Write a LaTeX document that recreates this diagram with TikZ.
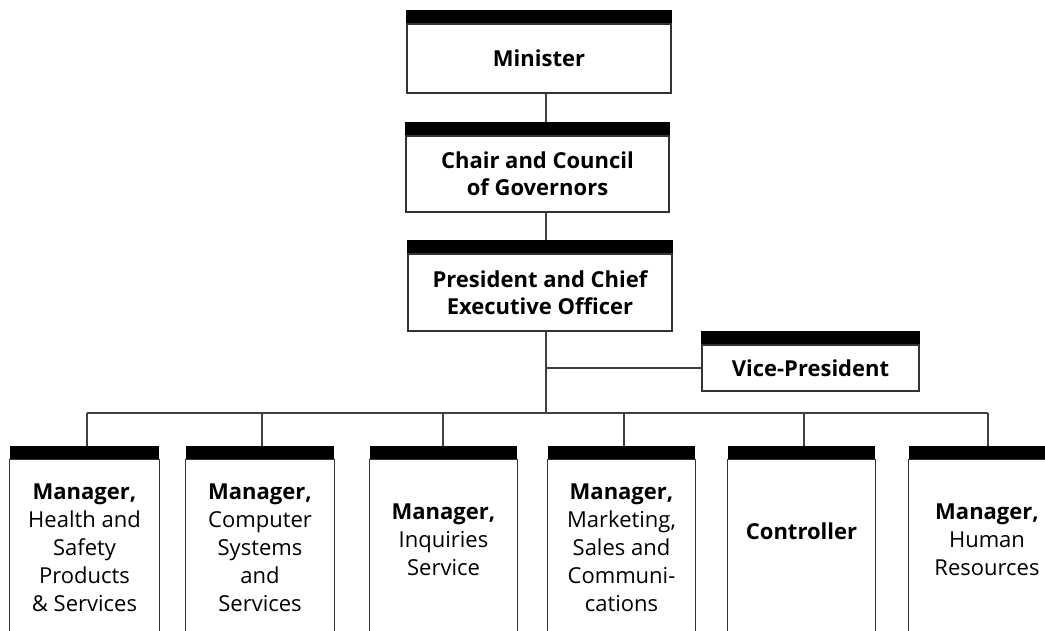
\documentclass[tikz,border=0pt]{standalone}
\usepackage{fontspec}
\setmainfont{Open Sans}
\begin{document}
\begin{tikzpicture}[x=1pt,y=1pt,
  every node/.style={font=\fontsize{22}{27.5}\selectfont, align=center, inner sep=0pt},
  topbox/.style={draw=black!80, line width=1.1pt, minimum height=#1},
  lowbox/.style={minimum width=148pt, minimum height=#1, font=\fontsize{22}{28}\selectfont},
  conn/.style={draw=black!75, line width=1.1pt},
  barfill/.style={fill=black}]
\useasboundingbox (0,0) rectangle (1045,630);
\clip (0,0) rectangle (1045,630);
% top boxes (bodies below the black bars)
\node[topbox=69pt, minimum width=264pt] (min) at (539,571.5) {\bfseries Minister};
\node[topbox=76pt, minimum width=263pt] (chair) at (537.5,456) {\bfseries Chair and Council\\\bfseries of Governors};
\node[topbox=77pt, minimum width=264pt] (pres) at (540,337.5) {\bfseries President and Chief\\\bfseries Executive Officer};
\node[topbox=46pt, minimum width=217pt] (vp) at (810.5,262) {\bfseries Vice-President};
% bottom boxes (top edge of body at the same height, text centred per box)
\node[lowbox=176pt, minimum width=149pt] (b1) at (84.5,82) {\bfseries Manager,\\Health and\\Safety\\Products\\\& Services};
\node[lowbox=176pt] (b2) at (260,82) {\bfseries Manager,\\Computer\\Systems\\and\\Services};
\node[lowbox=160pt, minimum width=147pt] (b3) at (443.5,90) {\bfseries Manager,\\Inquiries\\Service};
\node[lowbox=176pt, minimum width=147pt] (b4) at (621.5,82) {\bfseries Manager,\\Marketing,\\Sales and\\Communi-\\cations};
\node[lowbox=142pt, minimum width=147pt] (b5) at (801.5,99) {\bfseries Controller};
\node[lowbox=160pt, minimum width=156pt] (b6) at (987,90) {\bfseries Manager,\\Human\\Resources};
% black bars
\foreach \n in {min,chair,pres,vp,b1,b2,b3,b4,b5,b6}{
  \fill[barfill] (\n.north west) rectangle ([yshift=13.5pt]\n.north east);
  \coordinate (t\n) at ([yshift=13.5pt]\n.north);
}
% open-bottomed sides of lower boxes
\foreach \n in {b1,b2,b3,b4,b5,b6}{
  \draw[draw=black!80, line width=1.1pt] ([yshift=-60pt]\n.south west) -- (\n.north west) -- (\n.north east) -- ([yshift=-60pt]\n.south east);
}
% connectors
\coordinate (spine) at (546,0);
\coordinate (bus) at (0,217);
\draw[conn] (min.south -| spine) -- (tchair -| spine);
\draw[conn] (chair.south -| spine) -- (tpres -| spine);
\draw[conn] (pres.south -| spine) -- (bus -| spine);
\draw[conn] (spine |- vp.west) -- (vp.west);
\coordinate (c1) at (87,0);
\coordinate (c2) at (262,0);
\coordinate (c3) at (443,0);
\coordinate (c4) at (624,0);
\coordinate (c5) at (804,0);
\coordinate (c6) at (988,0);
\draw[conn] (bus -| c1) -- (bus -| c6);
\foreach \i in {1,...,6}{
  \draw[conn] (bus -| c\i) -- (tb\i -| c\i);
}
\end{tikzpicture}
\end{document}
